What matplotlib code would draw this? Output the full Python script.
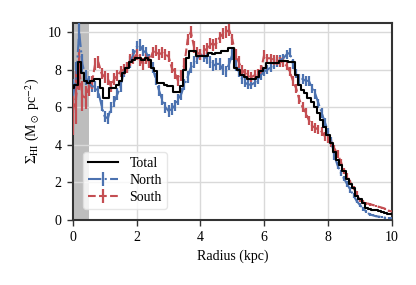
import numpy as np
import matplotlib
matplotlib.use("Agg")
from matplotlib import pyplot as plt

plt.rcParams['font.family'] = ['Liberation Serif', 'DejaVu Serif']
plt.rcParams['mathtext.fontset'] = 'stix'
plt.rcParams['font.size'] = 10

# radius grid (kpc)
radius = np.round(np.arange(0, 10.01, 0.1), 2)

# total surface density profile (Msun / pc^2)
total = [7.0, 7.2, 8.4, 7.8, 7.4, 7.3, 7.4, 7.5, 7.5, 7.0,
         6.5, 6.5, 7.0, 7.0, 7.2, 7.4, 7.8, 8.1, 8.4, 8.5,
         8.6, 8.6, 8.5, 8.6, 8.5, 8.1, 7.9, 7.3, 7.3, 7.2,
         7.1, 7.1, 6.8, 6.8, 7.1, 8.0, 8.6, 9.0, 9.0, 8.7,
         8.7, 8.7, 8.7, 8.9, 8.8, 8.9, 8.9, 9.0, 9.0, 9.15,
         9.15, 8.1, 8.0, 7.7, 7.6, 7.5, 7.5, 7.5, 7.6, 7.9,
         8.1, 8.35, 8.35, 8.35, 8.35, 8.45, 8.45, 8.45, 8.4, 8.4,
         7.7, 7.2, 6.9, 6.75, 6.5, 6.3, 6.0, 5.7, 5.3, 4.95,
         4.5, 4.1, 3.6, 3.2, 2.9, 2.6, 2.2, 1.9, 1.7, 1.3,
         1.1, 0.9, 0.65, 0.6, 0.55, 0.52, 0.48, 0.42, 0.38, 0.33,
         0.3]

north = [6.6, 7.4, 10.0, 8.3, 7.6, 7.3, 7.1, 7.1, 6.8, 6.1,
         5.5, 5.4, 6.0, 6.3, 6.7, 7.1, 7.9, 8.1, 8.4, 8.8,
         9.2, 9.3, 9.0, 8.9, 8.5, 8.1, 7.5, 6.9, 6.4, 6.0,
         5.8, 5.9, 6.1, 6.4, 6.7, 7.2, 7.6, 8.1, 8.4, 8.6,
         8.8, 8.7, 8.6, 8.4, 8.2, 8.3, 8.3, 8.0, 7.9, 8.3,
         8.8, 8.2, 7.9, 7.5, 7.3, 7.2, 7.2, 7.3, 7.5, 7.7,
         7.9, 8.0, 8.1, 8.3, 8.4, 8.5, 8.6, 8.8, 8.9, 8.3,
         7.8, 7.5, 7.5, 7.4, 7.4, 7.0, 6.7, 6.2, 5.7, 5.2,
         4.7, 4.2, 3.4, 2.9, 2.5, 2.2, 1.9, 1.6, 1.3, 1.0,
         0.8, 0.6, 0.45, 0.3, 0.25, 0.2, 0.18, 0.15, 0.12, 0.1,
         0.1]
north_err = [0.9, 1.0, 0.6, 0.5, 0.4, 0.35, 0.3, 0.3, 0.3, 0.3,
             0.3, 0.3, 0.3, 0.3, 0.3, 0.3, 0.3, 0.3, 0.3, 0.3,
             0.3, 0.3, 0.3, 0.3, 0.3, 0.3, 0.3, 0.3, 0.3, 0.3,
             0.3, 0.3, 0.3, 0.3, 0.3, 0.3, 0.3, 0.3, 0.3, 0.3,
             0.3, 0.3, 0.3, 0.3, 0.3, 0.3, 0.3, 0.3, 0.3, 0.3,
             0.3, 0.3, 0.3, 0.25, 0.25, 0.25, 0.25, 0.25, 0.25, 0.25,
             0.25, 0.25, 0.25, 0.25, 0.25, 0.25, 0.25, 0.25, 0.25, 0.25,
             0.25, 0.25, 0.25, 0.25, 0.25, 0.25, 0.25, 0.25, 0.25, 0.25,
             0.2, 0.2, 0.2, 0.2, 0.15, 0.15, 0.15, 0.15, 0.12, 0.12,
             0.1, 0.1, 0.08, 0.08, 0.06, 0.06, 0.05, 0.05, 0.05, 0.05,
             0.05]

south = [5.8, 6.5, 8.0, 6.6, 6.5, 7.0, 7.3, 8.3, 8.4, 7.8,
         7.6, 7.5, 7.1, 7.5, 7.7, 7.9, 8.0, 8.1, 8.5, 8.6,
         8.8, 8.5, 8.3, 8.6, 8.4, 8.9, 9.0, 8.8, 8.9, 8.8,
         8.7, 8.1, 7.8, 7.4, 7.7, 8.3, 9.6, 10.0, 9.2, 8.9,
         8.8, 9.0, 9.1, 9.4, 9.3, 9.4, 9.7, 9.9, 10.0, 10.1,
         9.6, 8.8, 8.4, 8.0, 7.8, 7.7, 7.6, 7.7, 7.8, 8.0,
         8.8, 8.6, 8.6, 8.5, 8.5, 8.4, 8.4, 8.2, 7.9, 7.4,
         7.0, 6.4, 6.0, 5.7, 5.3, 5.0, 4.9, 4.8, 4.7, 4.45,
         4.3, 4.1, 3.8, 3.5, 3.1, 2.6, 2.35, 2.0, 1.7, 1.4,
         1.05, 0.95, 0.9, 0.85, 0.8, 0.75, 0.7, 0.65, 0.6, 0.5,
         0.45]
south_err = [1.3, 1.4, 1.1, 0.8, 0.6, 0.4, 0.35, 0.3, 0.3, 0.3,
             0.3, 0.3, 0.3, 0.3, 0.3, 0.3, 0.3, 0.3, 0.3, 0.3,
             0.3, 0.3, 0.3, 0.3, 0.3, 0.3, 0.3, 0.3, 0.3, 0.3,
             0.3, 0.3, 0.3, 0.3, 0.3, 0.3, 0.3, 0.3, 0.3, 0.3,
             0.3, 0.3, 0.3, 0.3, 0.3, 0.3, 0.3, 0.3, 0.3, 0.3,
             0.3, 0.3, 0.3, 0.25, 0.25, 0.25, 0.25, 0.25, 0.25, 0.25,
             0.25, 0.25, 0.25, 0.25, 0.25, 0.25, 0.25, 0.25, 0.25, 0.25,
             0.25, 0.25, 0.25, 0.25, 0.25, 0.25, 0.25, 0.25, 0.25, 0.25,
             0.2, 0.2, 0.2, 0.2, 0.15, 0.15, 0.15, 0.15, 0.12, 0.12,
             0.1, 0.1, 0.08, 0.08, 0.06, 0.06, 0.05, 0.05, 0.05, 0.05,
             0.05]

f = plt.figure(figsize=(4.16, 2.85), dpi=100)
ax = f.add_axes([0.175, 0.228, 0.767, 0.693])

ax.axvspan(0, 0.5, color='#bdbdbd', zorder=0, lw=0)

ax.plot(radius, total, color='k', lw=1.5, drawstyle='steps-mid', label='Total', zorder=5)
ax.errorbar(radius, north, yerr=north_err, color='#4C72B0', ls='-.', lw=1.5,
            elinewidth=1.6, label='North', zorder=3)
ax.errorbar(radius, south, yerr=south_err, color='#C44E52', ls='--', lw=1.5,
            elinewidth=1.6, label='South', zorder=3)

ax.set_xlim(0, 10)
ax.set_ylim(0, 10.5)
ax.set_xticks([0, 2, 4, 6, 8, 10])
ax.set_yticks([0, 2, 4, 6, 8, 10])
ax.grid(True, color='#d9d9d9', lw=1.0, zorder=0)
ax.set_axisbelow(True)
for s in ax.spines.values():
    s.set_color('#333333')
    s.set_linewidth(1.5)
ax.tick_params(direction='out', length=4.5, width=1.0, color='#333333', labelsize=10)

ax.set_xlabel('Radius (kpc)', fontsize=10)
ax.set_ylabel(r'$\Sigma_{\rm HI}$ (M$_\odot$ pc$^{-2}$)', fontsize=10)

leg = ax.legend(loc='lower left', bbox_to_anchor=(0.01, 0.02), fontsize=10,
                framealpha=0.8, edgecolor='#e0e0e0', handlelength=2.2,
                borderpad=0.35, labelspacing=0.3)
leg.set_zorder(10)

f.savefig('out.png', dpi=100)
plt.close(f)
